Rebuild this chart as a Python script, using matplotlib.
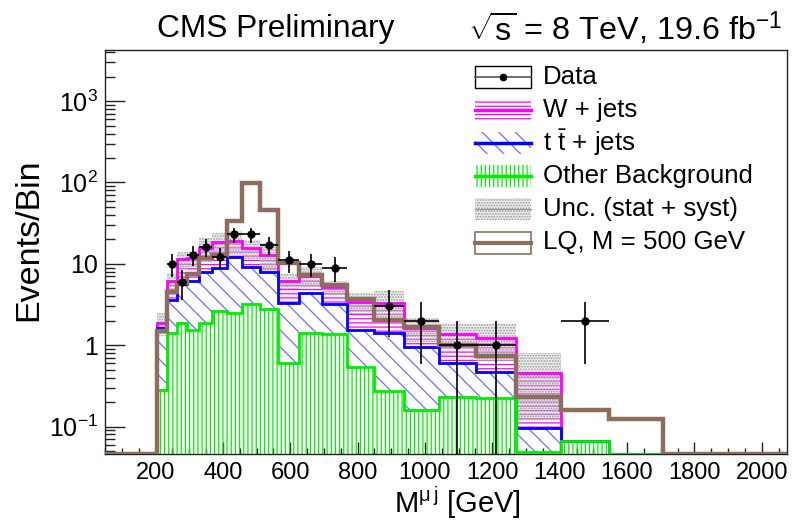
import numpy as np
import matplotlib
matplotlib.use("Agg")
import matplotlib.pyplot as plt
from matplotlib.patches import Rectangle
from matplotlib.lines import Line2D
from matplotlib.ticker import FixedLocator, FixedFormatter, LogLocator, NullFormatter, MultipleLocator

plt.rcParams['font.family'] = ['Liberation Sans', 'DejaVu Sans']
plt.rcParams['mathtext.fontset'] = 'custom'
plt.rcParams['mathtext.rm'] = 'Liberation Sans'
plt.rcParams['mathtext.it'] = 'Liberation Sans:italic'
plt.rcParams['mathtext.bf'] = 'Liberation Sans:bold'
plt.rcParams['hatch.linewidth'] = 0.9

# ---------------- data ----------------
bin_edges = [205, 234, 264, 294, 330, 369, 413, 456, 510, 565, 627, 695,
             768, 850, 938, 1041, 1151, 1270, 1403, 1547, 1708]
other_bkg = [0.28, 1.43, 1.90, 1.54, 1.90, 2.66, 2.47, 3.20, 2.75, 0.61,
             1.40, 1.38, 0.54, 0.275, 0.16, 0.234, 0.225, 0.048, 0.067, 0.0]
ttbar_jets = [1.34, 2.17, 3.76, 4.66, 6.10, 6.34, 9.73, 6.00, 5.25, 2.67,
              3.03, 1.84, 1.00, 1.125, 0.80, 0.376, 0.241, 0.047, 0.0, 0.0]
w_jets = [0.28, 2.60, 5.74, 5.60, 7.50, 9.50, 6.80, 6.30, 5.00, 2.92,
          2.72, 1.94, 1.89, 1.88, 0.66, 0.75, 0.754, 0.365, 0.0, 0.0]
unc_total = [0.6, 1.5, 2.7, 2.7, 5.0, 5.5, 6.0, 4.0, 5.0, 1.3,
             2.0, 1.0, 1.0, 1.3, 0.52, 0.47, 0.58, 0.34, 0.073, 0.0]
lq_500 = [1.5, 4.55, 5.77, 7.5, 11.8, 13.0, 33.5, 98.0, 46.0, 10.2,
          7.3, 5.5, 3.7, 2.05, 1.66, 1.0, 0.74, 0.234, 0.16, 0.124]
data_counts = [0, 10, 6, 13, 16, 12, 23, 23, 17, 11,
               10, 9, 0, 3, 2, 1, 1, 0, 2, 0]

x_ticks = [200, 400, 600, 800, 1000, 1200, 1400, 1600, 1800, 2000]
y_ticks = [0.1, 1, 10, 100, 1000]
y_tick_labels = [r'10$^{\mathrm{-1}}$', '1', '10', r'10$^{\mathrm{2}}$', r'10$^{\mathrm{3}}$']

XMIN, XMAX = 50, 2075
YMIN, YMAX = 0.046, 4250

C_W = '#ff00ff'
C_TT = '#0000ff'
C_TT_H = '#6f6fff'
C_OT = '#00ee00'
C_LQ = '#8c6d5e'
C_UNC = '#9a9a9a'

# ---------------- figure ----------------
W, H = 798, 524
fig = plt.figure(figsize=(W / 100, H / 100), dpi=100)
ax = fig.add_axes([105 / W, 1 - 454 / H, (787 - 105) / W, (454 - 50) / H])
ax.set_yscale('log')
ax.set_xlim(XMIN, XMAX)
ax.set_ylim(YMIN, YMAX)

edges = np.array(bin_edges, dtype=float)
G = np.array(other_bkg)
T = G + np.array(ttbar_jets)
S = T + np.array(w_jets)
U = np.array(unc_total)


def ext(v):
    v = np.asarray(v, dtype=float)
    return np.append(v, v[-1])


def floor(v):
    v = np.asarray(v, dtype=float)
    return np.where(v > 0, v, YMIN)

# stacked fills (hatched)
ax.fill_between(edges, np.full(len(edges), YMIN * 0.5), ext(floor(G)), step='post',
                facecolor='none', edgecolor=C_OT, hatch='||||', linewidth=0, zorder=2)
ax.fill_between(edges, ext(floor(G)), ext(floor(T)), step='post',
                facecolor='none', edgecolor=C_TT_H, hatch='\\\\', linewidth=0, zorder=2)
ax.fill_between(edges, ext(floor(T)), ext(floor(S)), step='post',
                facecolor='none', edgecolor=C_W, hatch='----', linewidth=0, zorder=2)

# uncertainty band
lo = np.maximum(S - U, YMIN * 0.5)
hi = S + U
mask = ext(U > 0)
ax.fill_between(edges, ext(lo), ext(hi), step='post', where=mask,
                facecolor='#d8d8d8', alpha=0.45, linewidth=0, zorder=3)
ax.fill_between(edges, ext(lo), ext(hi), step='post', where=mask,
                facecolor='none', edgecolor=C_UNC, hatch='......', linewidth=0, zorder=3)

# outlines
ax.stairs(floor(S), edges, baseline=YMIN * 0.5, color=C_W, lw=2, zorder=4)
ax.stairs(floor(T), edges, baseline=YMIN * 0.5, color=C_TT, lw=2, zorder=4)
ax.stairs(floor(G), edges, baseline=YMIN * 0.5, color=C_OT, lw=2, zorder=4)

# signal
lq_edges = np.concatenate([[XMIN], edges, [XMAX]])
lq_vals = np.concatenate([[0.0], lq_500, [0.0]])
ax.stairs(floor(lq_vals), lq_edges, baseline=None, color=C_LQ, lw=3.2, zorder=5)

# data
d = np.array(data_counts, dtype=float)
centers = 0.5 * (edges[:-1] + edges[1:])
half = 0.5 * (edges[1:] - edges[:-1])
m = d > 0
err = np.sqrt(d)
lower = np.minimum(err, d - YMIN * 0.5)
ax.errorbar(centers[m], d[m], xerr=half[m], yerr=[lower[m], err[m]],
            fmt='o', color='black', ms=5, elinewidth=1.2, capsize=0, zorder=6)

# axes styling
for sp in ax.spines.values():
    sp.set_linewidth(1.0)
    sp.set_color('#222222')
ax.xaxis.set_major_locator(FixedLocator(x_ticks))
ax.xaxis.set_minor_locator(MultipleLocator(50))
ax.yaxis.set_major_locator(FixedLocator(y_ticks))
ax.yaxis.set_major_formatter(FixedFormatter(y_tick_labels))
ax.yaxis.set_minor_locator(LogLocator(base=10, subs=np.arange(2, 10)))
ax.yaxis.set_minor_formatter(NullFormatter())
ax.tick_params(axis='both', which='both', direction='in', top=False, right=False,
               color='#222222')
ax.tick_params(axis='x', which='major', length=8.6, width=1, pad=6, labelsize=17)
ax.tick_params(axis='x', which='minor', length=4.3, width=1)
ax.tick_params(axis='y', which='major', length=14.4, width=1, pad=5, labelsize=18)
ax.tick_params(axis='y', which='minor', length=7.2, width=1)

# titles and labels
fig.text(157 / W, 1 - 29 / H, 'CMS Preliminary', fontsize=22.8, ha='left', va='center')
fig.text(468 / W, 1 - 29 / H, r'$\sqrt{\mathrm{s}}$ = 8 TeV, 19.6 fb$^{\mathrm{-1}}$',
         fontsize=23.3, ha='left', va='center')
fig.text(457 / W, 1 - 503 / H, r'M$^{\mathrm{\mu\,j}}$ [GeV]', fontsize=21,
         ha='center', va='center')
fig.text(29 / W, 1 - 240 / H, 'Events/Bin', fontsize=24.5, rotation=90,
         ha='center', va='center')

# legend (drawn manually, ROOT style)
def fx(x):
    return x / W


def fy(y):
    return 1 - y / H

labels = ['Data', 'W + jets', r't $\mathrm{\bar{t}}$ + jets', 'Other Background',
          'Unc. (stat + syst)', 'LQ, M = 500 GeV']
bx0, bx1, bh = 475, 531, 22
for i, lab in enumerate(labels):
    yc = 76.5 + 33.2 * i
    y0 = yc + bh / 2
    rect_kw = dict(transform=fig.transFigure)
    if i == 0:
        fig.add_artist(Rectangle((fx(bx0), fy(y0)), fx(bx1) - fx(bx0), bh / H,
                                 facecolor='none', edgecolor='black', lw=1, **rect_kw))
        fig.add_artist(Line2D([fx(bx0), fx(bx1)], [fy(yc)] * 2, color='#555555', lw=1.2,
                              transform=fig.transFigure))
        fig.add_artist(Line2D([fx((bx0 + bx1) / 2)], [fy(yc)], marker='o', ms=4.5, color='black',
                              transform=fig.transFigure))
    elif i == 1:
        fig.add_artist(Rectangle((fx(bx0), fy(y0)), fx(bx1) - fx(bx0), bh / H,
                                 facecolor='none', edgecolor=C_W, hatch='----', lw=0, **rect_kw))
        fig.add_artist(Line2D([fx(bx0), fx(bx1)], [fy(yc)] * 2, color=C_W, lw=2.5,
                              transform=fig.transFigure))
    elif i == 2:
        fig.add_artist(Rectangle((fx(bx0), fy(y0)), fx(bx1) - fx(bx0), bh / H,
                                 facecolor='none', edgecolor=C_TT_H, hatch='\\\\', lw=0, **rect_kw))
        fig.add_artist(Line2D([fx(bx0), fx(bx1)], [fy(yc)] * 2, color=C_TT, lw=2.5,
                              transform=fig.transFigure))
    elif i == 3:
        fig.add_artist(Rectangle((fx(bx0), fy(y0)), fx(bx1) - fx(bx0), bh / H,
                                 facecolor='none', edgecolor=C_OT, hatch='||||', lw=0, **rect_kw))
        fig.add_artist(Line2D([fx(bx0), fx(bx1)], [fy(yc)] * 2, color=C_OT, lw=2.5,
                              transform=fig.transFigure))
    elif i == 4:
        fig.add_artist(Rectangle((fx(bx0), fy(y0)), fx(bx1) - fx(bx0), bh / H,
                                 facecolor='#d8d8d8', alpha=0.45, lw=0, **rect_kw))
        fig.add_artist(Rectangle((fx(bx0), fy(y0)), fx(bx1) - fx(bx0), bh / H,
                                 facecolor='none', edgecolor=C_UNC, hatch='......', lw=0, **rect_kw))
        fig.add_artist(Line2D([fx(bx0), fx(bx1)], [fy(yc)] * 2, color='#999999', lw=1,
                              transform=fig.transFigure))
    else:
        fig.add_artist(Rectangle((fx(bx0), fy(y0)), fx(bx1) - fx(bx0), bh / H,
                                 facecolor='none', edgecolor=C_LQ, lw=1.2, **rect_kw))
        fig.add_artist(Line2D([fx(bx0), fx(bx1)], [fy(yc)] * 2, color=C_LQ, lw=3,
                              transform=fig.transFigure))
    fig.text(fx(543), fy(yc), lab, fontsize=18.6, ha='left', va='center')

fig.savefig('out.png', dpi=100)
